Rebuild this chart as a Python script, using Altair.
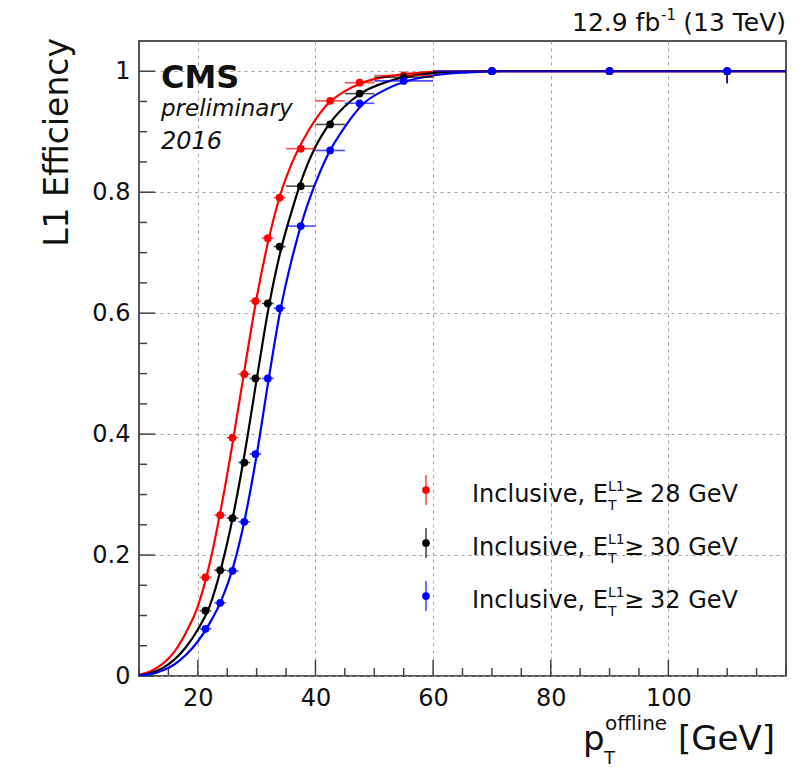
import altair as alt
import pandas as pd

# ---------------- data ----------------
series = ["Inclusive 28", "Inclusive 30", "Inclusive 32"]
colors = ["#ff0000", "#000000", "#0000ff"]

centers = [21.3, 23.8, 25.9, 27.9, 29.8, 31.9, 33.9, 37.5, 42.5, 47.5, 55, 70, 90, 110]
bin_lo = [20.3, 22.8, 24.9, 26.9, 28.8, 30.9, 32.9, 35, 40, 45, 50, 60, 80, 100]
bin_hi = [22.3, 24.8, 26.9, 28.9, 30.8, 32.9, 34.9, 40, 45, 50, 60, 80, 100, 120]

eff_28 = [0.163, 0.266, 0.394, 0.499, 0.620, 0.724, 0.791, 0.872, 0.951, 0.981, 0.993, 1.0, 1.0, 1.0]
eff_30 = [0.108, 0.175, 0.261, 0.353, 0.492, 0.616, 0.710, 0.810, 0.912, 0.963, 0.990, 1.0, 1.0, 1.0]
eff_32 = [0.078, 0.121, 0.174, 0.255, 0.367, 0.492, 0.608, 0.744, 0.869, 0.947, 0.984, 1.0, 1.0, 1.0]
err_lo = [0.006, 0.006, 0.006, 0.006, 0.006, 0.006, 0.006, 0.006, 0.005, 0.004, 0.004, 0.003, 0.004, 0.02]

# fitted curves
curve_x = [10, 12, 14, 16, 18, 20, 22, 24, 26, 28, 30, 32, 34, 36, 38, 40, 42, 45, 48, 52, 56, 60, 66, 72, 120]
curve_28 = [0.002, 0.008, 0.02, 0.04, 0.072, 0.115, 0.185, 0.28, 0.39, 0.51, 0.625, 0.72, 0.795, 0.848, 0.888,
            0.92, 0.945, 0.967, 0.981, 0.991, 0.996, 0.999, 1.0, 1.0, 1.0]
curve_30 = [0.001, 0.005, 0.013, 0.027, 0.048, 0.077, 0.115, 0.18, 0.265, 0.37, 0.49, 0.607, 0.70, 0.77, 0.83,
            0.875, 0.908, 0.942, 0.965, 0.982, 0.992, 0.997, 0.999, 1.0, 1.0]
curve_32 = [0.001, 0.003, 0.009, 0.019, 0.035, 0.057, 0.087, 0.125, 0.18, 0.26, 0.365, 0.488, 0.603, 0.69, 0.76,
            0.815, 0.86, 0.908, 0.945, 0.97, 0.985, 0.993, 0.998, 1.0, 1.0]

x_major = [20, 40, 60, 80, 100]
x_minor = [v for v in range(10, 121, 5) if v not in x_major]
y_major = [0, 0.2, 0.4, 0.6, 0.8, 1.0]
y_minor = [round(0.05 * i, 2) for i in range(0, 21) if i % 4 != 0]

legend_thr = ["28", "30", "32"]

# ---------------- layout ----------------
W, H = 647, 635
OX, OY = 139, 41  # page position of the plot area
FONT = "DejaVu Sans"

xscale = alt.Scale(domain=[10, 120], nice=False, zero=False)
yscale = alt.Scale(domain=[0, 1.05], nice=False, zero=False)

xaxis = alt.Axis(
    values=x_major, title=None, grid=True, gridDash=[3, 4], gridColor="#a0a0a0", gridWidth=1,
    ticks=False, domain=False, labelFont=FONT, labelFontSize=24, labelColor="#111",
    labelPadding=10)
yaxis = alt.Axis(
    values=y_major, title=None, grid=True, gridDash=[3, 4], gridColor="#a0a0a0", gridWidth=1,
    ticks=False, domain=False, labelFont=FONT, labelFontSize=24, labelColor="#111",
    labelPadding=9, labelExpr="format(datum.value, '~g')")


def X(field):
    return alt.X(field, scale=xscale, axis=xaxis)


def Y(field):
    return alt.Y(field, scale=yscale, axis=yaxis)


effs = [eff_28, eff_30, eff_32]
curves = [curve_28, curve_30, curve_32]

pts = pd.DataFrame([
    dict(series=s, x=c, lo=l, hi=h, eff=e, ylo=max(e - d, 0), yhi=e)
    for s, ev in zip(series, effs)
    for c, l, h, e, d in zip(centers, bin_lo, bin_hi, ev, err_lo)
])
crv = pd.DataFrame([
    dict(series=s, cx=x, cy=y)
    for s, cv in zip(series, curves)
    for x, y in zip(curve_x, cv)
])

layers = []

# inside ticks (ROOT style); grid comes from the axes
tick_col = "#444"
layers.append(alt.Chart(pd.DataFrame({"v": x_major})).mark_rule(color=tick_col, strokeWidth=1.5).encode(
    x=X("v:Q"), y=alt.value(H), y2=alt.value(H - 16)))
layers.append(alt.Chart(pd.DataFrame({"v": x_minor})).mark_rule(color=tick_col, strokeWidth=1.5).encode(
    x=X("v:Q"), y=alt.value(H), y2=alt.value(H - 8)))
layers.append(alt.Chart(pd.DataFrame({"w": y_major})).mark_rule(color=tick_col, strokeWidth=1.5).encode(
    y=Y("w:Q"), x=alt.value(0), x2=alt.value(16)))
layers.append(alt.Chart(pd.DataFrame({"w": y_minor})).mark_rule(color=tick_col, strokeWidth=1.5).encode(
    y=Y("w:Q"), x=alt.value(0), x2=alt.value(8)))

for s, col in zip(series, colors):
    sc = crv[crv.series == s]
    layers.append(alt.Chart(sc).mark_line(color=col, strokeWidth=2.2, interpolate="monotone", clip=True).encode(
        x=X("cx:Q"), y=Y("cy:Q")))
for s, col in zip(series, colors):
    sp = pts[pts.series == s]
    layers.append(alt.Chart(sp).mark_rule(color=col, strokeWidth=1.6, opacity=0.7).encode(
        x=X("lo:Q"), x2="hi:Q", y=Y("eff:Q")))
    layers.append(alt.Chart(sp).mark_rule(color=col, strokeWidth=1.6, opacity=0.7).encode(
        x=X("x:Q"), y=Y("ylo:Q"), y2="yhi:Q"))
    layers.append(alt.Chart(sp).mark_point(filled=True, shape="circle", size=60, color=col, opacity=1).encode(
        x=X("x:Q"), y=Y("eff:Q")))


def txt(text, px, py, size, align="left", weight="normal", style="normal", angle=0, color="#111"):
    return alt.Chart(pd.DataFrame({"t": [text]})).mark_text(
        align=align, baseline="alphabetic", font=FONT, fontSize=size, fontWeight=weight,
        fontStyle=style, angle=angle, color=color).encode(
        text="t:N", x=alt.value(px - OX), y=alt.value(py - OY))


# CMS label
layers.append(txt("CMS", 161, 88, 32, weight="bold"))
layers.append(txt("preliminary", 161, 116, 23, style="italic"))
layers.append(txt("2016", 161, 149, 24, style="italic"))

# luminosity label
layers.append(txt("12.9 fb", 572, 31, 25))
layers.append(txt("-1", 661, 20, 15))
layers.append(txt("(13 TeV)", 786, 31, 25, align="right"))

# axis titles
layers.append(txt("L1 Efficiency", 68, 38, 33, align="right", angle=270))
layers.append(txt("p", 583, 750, 34))
layers.append(txt("offline", 605, 730, 20))
layers.append(txt("T", 604, 764, 18))
layers.append(txt("[GeV]", 678, 750, 34))

# legend
leg_rows = [490, 543, 596]
for thr, col, ry in zip(legend_thr, colors, leg_rows):
    layers.append(alt.Chart(pd.DataFrame({"a": [0]})).mark_rule(color=col, strokeWidth=1.6, opacity=0.7).encode(
        x=alt.value(426 - OX), y=alt.value(ry - 15 - OY), y2=alt.value(ry + 15 - OY)))
    layers.append(alt.Chart(pd.DataFrame({"a": [0]})).mark_point(filled=True, shape="circle", size=60,
                                                                color=col, opacity=1).encode(
        x=alt.value(426 - OX), y=alt.value(ry - OY)))
    b = ry + 12
    layers.append(txt("Inclusive, E", 472, b, 24))
    layers.append(txt("L1", 608, b - 11, 14))
    layers.append(txt("T", 608, b + 8, 14))
    layers.append(txt("\u2265", 624, b, 24))
    layers.append(txt(thr + " GeV", 650, b, 24))

chart = alt.layer(*layers).properties(
    width=W, height=H,
    autosize=alt.AutoSizeParams(type="none"),
    padding={"left": OX, "top": OY, "right": 812 - OX - W, "bottom": 770 - OY - H},
    background="white",
).configure_view(stroke="#555", strokeWidth=2)

chart.save("out.html", embed_options={"renderer": "svg", "actions": False})
